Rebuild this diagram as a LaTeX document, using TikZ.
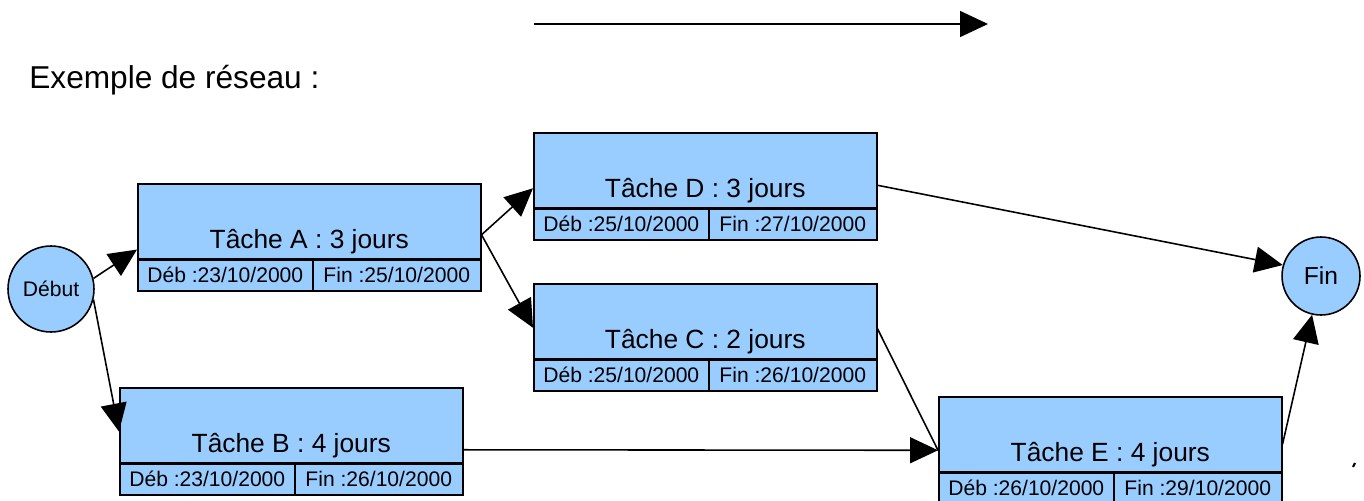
\documentclass[tikz,border=0pt]{standalone}
\usepackage{fontspec}
\setmainfont{Liberation Sans}
\usepackage{tikz}
\usetikzlibrary{arrows.meta, positioning}
\definecolor{tasklight}{RGB}{153,204,255}
\tikzset{
  task/.style={
      draw=black,
      fill=tasklight,
      rectangle,
      line width=0.9pt,
      minimum width=6.86cm,
      inner sep=0pt,
      text height=1.3cm,
      text depth=0.2cm,
      anchor=north west,
      font=\fontsize{15pt}{18pt}\selectfont
  },
  debcell/.style={
      draw=black,
      fill=tasklight,
      rectangle,
      line width=0.9pt,
      minimum width=3.5cm,
      inner sep=0pt,
      text height=0.45cm,
      text depth=0.16cm,
      font=\fontsize{12pt}{14pt}\selectfont
  },
  fincell/.style={
      debcell,
      minimum width=3.36cm
  },
  event/.style={
      draw=black,
      fill=tasklight,
      circle,
      line width=0.9pt,
      inner sep=0pt
  },
  arrow/.style={-{Triangle[length=0.56cm, width=0.52cm]}, line width=0.9pt}
}

\begin{document}
\begin{tikzpicture}[x=0.02cm, y=-0.02cm]
      \useasboundingbox (0,0) rectangle (1364,500);

      % Titre
      \coordinate (flA) at (534,24);
      \coordinate (flB) at (988,24);
      \draw[arrow] (flA) -- (flB);
      \node (titre) [anchor=base west, inner sep=0pt, font=\fontsize{18pt}{22pt}\selectfont] at (29,89) {Exemple de réseau :};

      % Evenements
      \node (debut) [event, minimum size=1.72cm, font=\fontsize{12pt}{14pt}\selectfont] at (51,289) {Début};
      \node (fin) [event, minimum size=1.56cm, font=\fontsize{14pt}{17pt}\selectfont] at (1321,276) {Fin};

      % Taches
      \node (ta) [task] at (137,183) {Tâche A : 3 jours};
      \node (tadeb) [debcell, below right=0pt and 0pt of ta.south west] {Déb :23/10/2000};
      \node (tafin) [fincell, below left=0pt and 0pt of ta.south east] {Fin :25/10/2000};

      \node (tb) [task] at (119,387) {Tâche B : 4 jours};
      \node (tbdeb) [debcell, below right=0pt and 0pt of tb.south west] {Déb :23/10/2000};
      \node (tbfin) [fincell, below left=0pt and 0pt of tb.south east] {Fin :26/10/2000};

      \node (td) [task] at (533,132) {Tâche D : 3 jours};
      \node (tddeb) [debcell, below right=0pt and 0pt of td.south west] {Déb :25/10/2000};
      \node (tdfin) [fincell, below left=0pt and 0pt of td.south east] {Fin :27/10/2000};

      \node (tc) [task] at (533,283) {Tâche C : 2 jours};
      \node (tcdeb) [debcell, below right=0pt and 0pt of tc.south west] {Déb :25/10/2000};
      \node (tcfin) [fincell, below left=0pt and 0pt of tc.south east] {Fin :26/10/2000};

      \node (te) [task] at (938,396) {Tâche E : 4 jours};
      \node (tedeb) [debcell, below right=0pt and 0pt of te.south west] {Déb :26/10/2000};
      \node (tefin) [fincell, below left=0pt and 0pt of te.south east] {Fin :29/10/2000};

      % Liens
      \draw[arrow] (debut.14) -- ([yshift=0.2cm]ta.south west);
      \draw[arrow] (debut.-14) -- ([yshift=0.64cm]tb.south west);
      \draw[arrow] ([yshift=-0.27cm]ta.east) -- ([yshift=-0.36cm]td.west);
      \draw[arrow] ([yshift=-0.27cm]ta.east) -- ([yshift=-0.13cm]tc.west);
      \draw[arrow] ([yshift=-0.3cm]td.east) -- (fin.164);
      \draw[line width=0.9pt] ([yshift=-0.15cm]tc.east) -- ([yshift=-0.32cm]te.west);
      \draw[arrow] ([yshift=-0.49cm]tb.east) -- ([yshift=-0.32cm]te.west);
      \draw[arrow] ([yshift=-0.2cm]te.east) -- (fin.257);

      % Trace
      \draw[line width=1.2pt] (1353,467) -- (1355,463);
    \end{tikzpicture}
\end{document}
